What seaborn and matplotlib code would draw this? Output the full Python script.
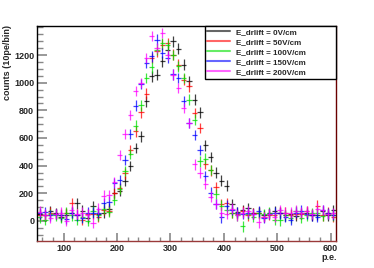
import numpy as np
import pandas as pd
import matplotlib
matplotlib.use("Agg")
import matplotlib.pyplot as plt
import seaborn as sns
from matplotlib.ticker import MultipleLocator, FixedLocator
from matplotlib.lines import Line2D

# bin centres (10 p.e. per bin)
pe = [55, 65, 75, 85, 95, 105, 115, 125, 135, 145,
      155, 165, 175, 185, 195, 205, 215, 225, 235, 245,
      255, 265, 275, 285, 295, 305, 315, 325, 335, 345,
      355, 365, 375, 385, 395, 405, 415, 425, 435, 445,
      455, 465, 475, 485, 495, 505, 515, 525, 535, 545,
      555, 565, 575, 585, 595, 605]

counts_0V = [50, 40, 72, 56, 30, 45, 60, 128, 75, 20,
             109, 50, 60, 90, 203, 215, 290, 396, 527, 611,
             865, 1046, 1058, 1155, 1240, 1299, 1246, 1130, 1010, 877,
             785, 546, 461, 350, 292, 255, 123, 63, 80, 95,
             56, 60, 40, 56, 70, 60, 40, 50, 35, 55,
             60, 40, 45, 70, 40, 80]

counts_50V = [45, 40, 60, 50, 45, 55, 128, 45, 10, 50,
              50, 30, 80, 75, 200, 240, 345, 514, 647, 785,
              920, 1178, 1227, 1275, 1288, 1203, 1130, 1022, 973, 780,
              672, 413, 365, 243, 120, 130, 60, 50, 70, 40,
              55, 60, 30, 45, 40, 60, 60, 40, 50, 50,
              70, 45, 110, 40, 60, 30]

counts_100V = [25, 10, 50, 40, 20, 60, 40, 10, 30, 0,
               70, 40, 90, 67, 150, 230, 360, 485, 690, 836,
               1034, 1110, 1240, 1285, 1270, 1200, 1118, 1034, 877, 732,
               430, 450, 370, 196, 110, 80, 60, 40, -40, 50,
               30, 55, 50, 60, 10, 5, 40, 20, 70, 20,
               40, 55, 60, 35, 50, 40]

counts_150V = [55, 65, 40, 50, 43, 15, 60, 40, 20, 60,
               60, 60, 130, 140, 273, 297, 442, 630, 835, 990,
               1143, 1190, 1312, 1215, 1179, 1060, 1034, 864, 708, 623,
               514, 326, 205, 123, 25, 110, 80, 60, 50, 60,
               50, 70, 20, 50, 60, 55, 30, 10, 60, 75,
               50, 40, 30, 80, 55, 45]

counts_200V = [67, 45, 20, 50, 60, 2, 80, 50, 60, 45,
               -15, 90, 183, 188, 280, 478, 630, 765, 940, 998,
               1179, 1336, 1250, 1360, 1200, 1058, 961, 816, 708, 410,
               350, 270, 176, 123, 60, 50, 90, 40, 60, 70,
               50, -10, 30, 50, 30, 80, 60, 60, 75, 60,
               70, 50, 90, 80, 50, 55]

labels = ["E_drlift = 0V/cm", "E_drlift = 50V/cm", "E_drlift = 100V/cm",
          "E_drlift = 150V/cm", "E_drlift = 200V/cm"]
colors = ["#000000", "#ff0000", "#00e000", "#0000ff", "#ff00ff"]
count_err = 38
bin_half = 5

df = pd.DataFrame({"pe": pe})
for lab, vals in zip(labels, [counts_0V, counts_50V, counts_100V, counts_150V, counts_200V]):
    df[lab] = vals

sns.set_style("ticks")
plt.rcParams["font.family"] = ["Liberation Sans", "DejaVu Sans"]
plt.rcParams["font.weight"] = "bold"

fig = plt.figure(figsize=(3.74, 2.68), dpi=100)
ax = fig.add_axes([37/374, 27/268, 299/374, 215/268])

for lab, col in zip(labels, colors):
    ax.errorbar(df["pe"], df[lab], xerr=bin_half, yerr=count_err, fmt="none",
                ecolor=col, elinewidth=0.9, capsize=0, alpha=0.75)

ax.set_xlim(50, 610)
ax.set_ylim(-145, 1410)
ax.xaxis.set_major_locator(MultipleLocator(100))
ax.xaxis.set_minor_locator(MultipleLocator(20))
ax.yaxis.set_major_locator(FixedLocator([0, 200, 400, 600, 800, 1000, 1200]))
ax.yaxis.set_minor_locator(MultipleLocator(50))
ax.tick_params(axis="both", which="both", direction="in", color="#888888",
               top=False, right=False, labelsize=6.5, pad=2)
ax.tick_params(axis="y", which="major", length=7, width=1.2)
ax.tick_params(axis="y", which="minor", length=4, width=1.0)
ax.tick_params(axis="x", which="major", length=6, width=1.2)
ax.tick_params(axis="x", which="minor", length=3, width=1.0)
for t in ax.get_xticklabels() + ax.get_yticklabels():
    t.set_fontweight("bold")

ax.spines["left"].set_color("black")
ax.spines["top"].set_color("black")
ax.spines["right"].set_color("#6a0000")
ax.spines["bottom"].set_color("#9a3a3a")
for s in ax.spines.values():
    s.set_linewidth(1.0)

fig.text(8/374, 1 - 25/268, "counts (10pe/bin)", rotation=90, ha="center", va="top",
         fontsize=6.5, fontweight="bold")
fig.text(337/374, 1 - 258/268, "p.e.", ha="right", va="center",
         fontsize=6.5, fontweight="bold")

# legend box spans roughly x 205..336 px, y 26..80 px
handles = [Line2D([0], [0], color=c, lw=1.5, alpha=0.6) for c in colors]
leg = ax.legend(handles, labels, loc="upper left",
                bbox_to_anchor=(0.562, 0.749, 0.438, 0.251), mode="expand",
                borderaxespad=0, fancybox=False, framealpha=1, edgecolor="black",
                prop={"size": 5.8, "weight": "bold"}, handlelength=2.8,
                handletextpad=0.75, labelspacing=0.3, borderpad=0.3)
leg.get_frame().set_linewidth(1.0)

plt.savefig("out.png", dpi=100)
